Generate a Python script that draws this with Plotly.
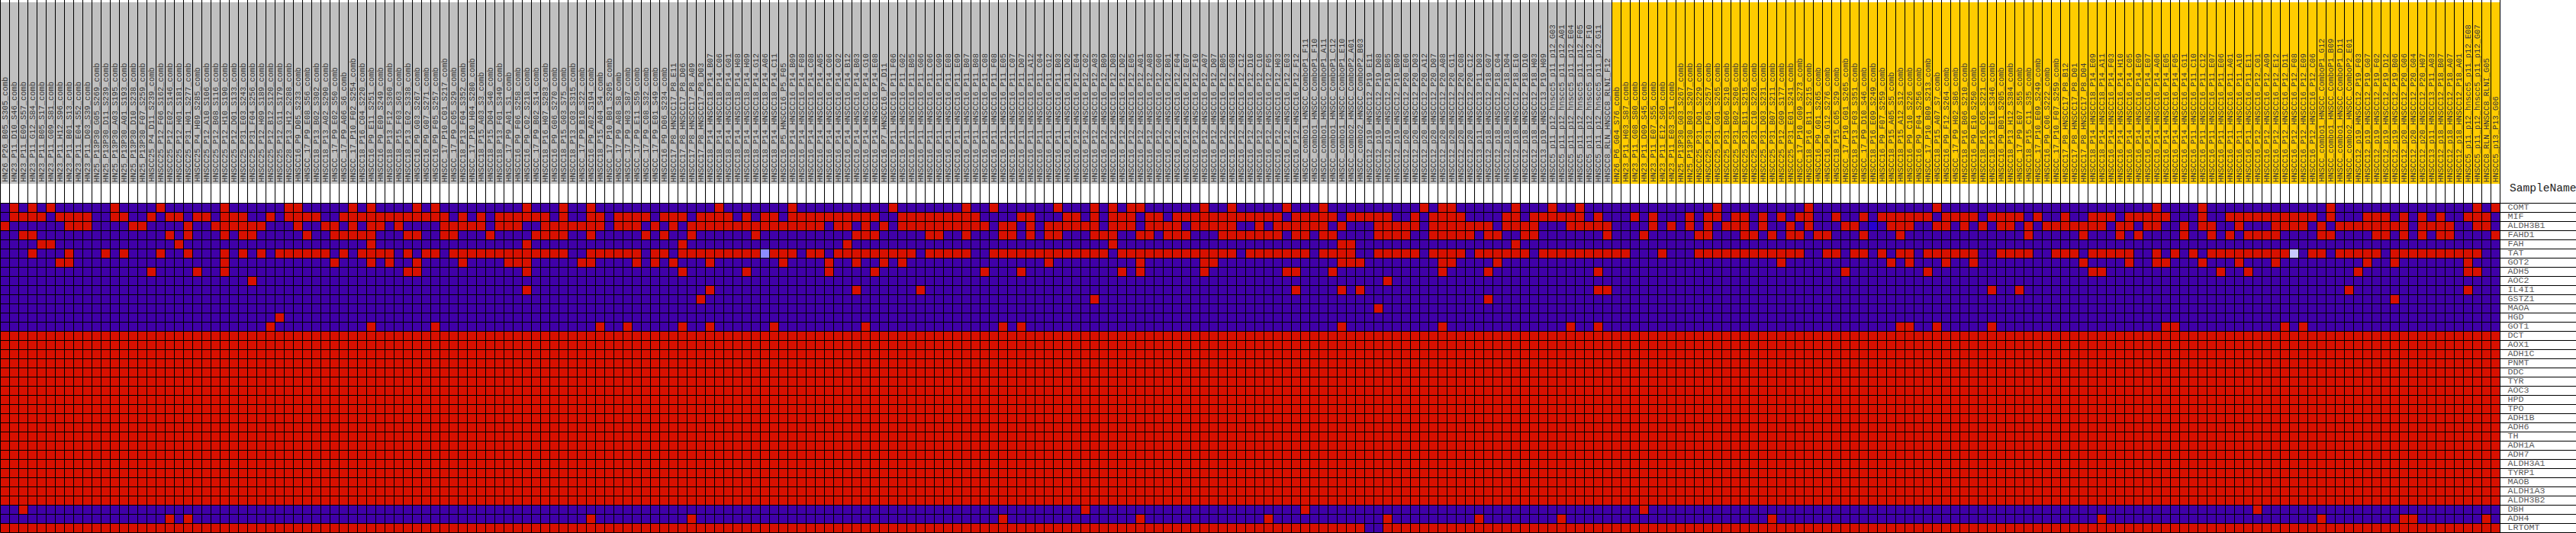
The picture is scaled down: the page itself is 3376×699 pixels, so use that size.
import plotly.graph_objects as go

GENES = ["COMT","MIF","ALDH3B1","FAHD1","FAH","TAT","GOT2","ADH5","AOC2","IL4I1","GSTZ1","MAOA","HGD","GOT1",
         "DCT","AOX1","ADH1C","PNMT","DDC","TYR","AOC3","HPD","TPO","ADH1B","ADH6","TH","ADH1A","ADH7",
         "ALDH3A1","TYRP1","MAOB","ALDH1A3","ALDH3B2","DBH","ADH4","LRTOMT"]

SAMPLES = """HN26_P26_B05_S305_comb HN23_P11_D10_S46_comb HN23_P11_E09_S57_comb HN23_P11_G12_S84_comb HN23_P11_B05_S17_comb
HN23_P11_G09_S81_comb HN23_P11_H12_S96_comb HN23_P11_B01_S13_comb HN23_P11_E04_S52_comb HN23_P11_D03_S39_comb
HN25_P13P30_G05_S269_comb HN25_P13P30_D11_S239_comb HN25_P13P30_A03_S195_comb HN25_P13P30_A01_S193_comb HN25_P13P30_D10_S238_comb
HN25_P13P30_F07_S259_comb HNSCC25_P4_D11_S239_comb HNSCC25_P12_F06_S162_comb HNSCC25_P12_E02_S146_comb HNSCC25_P12_H01_S181_comb
HNSCC25_P31_H01_S277_comb HNSCC25_P4_H09_S285_comb HNSCC25_P12_A10_S106_comb HNSCC25_P12_B08_S116_comb HNSCC25_P12_H10_S190_comb
HNSCC25_P12_D01_S133_comb HNSCC25_P31_E03_S243_comb HNSCC25_P31_F04_S256_comb HNSCC25_P12_H09_S189_comb HNSCC25_P12_B12_S120_comb
HNSCC25_P12_G11_S179_comb HNSCC28_P13_H12_S288_comb HNSCC16_P9_D05_S233_comb HNSCC_17_P9_E08_S56_comb HNSCC18_P13_B02_S302_comb
HNSCC18_P13_A02_S290_comb HNSCC_17_P9_E02_S50_comb HNSCC_17_P9_A06_S6_comb HNSCC_17_P10_F02_S254_comb
HNSCC18_P16_C04_S220_comb HNSCC16_P9_E11_S251_comb HNSCC16_P9_E09_S249_comb HNSCC18_P13_F12_S360_comb HNSCC18_P15_F03_S63_comb
HNSCC18_P13_E02_S338_comb HNSCC16_P9_G03_S267_comb HNSCC16_P9_G07_S271_comb HNSCC16_P9_F05_S257_comb HNSCC_17_P10_C01_S217_comb
HNSCC_17_P9_C05_S29_comb HNSCC18_P13_F04_S352_comb HNSCC_17_P10_H04_S280_comb HNSCC18_P15_A03_S3_comb HNSCC18_P15_D04_S40_comb
HNSCC18_P13_F01_S349_comb HNSCC_17_P9_A01_S1_comb HNSCC16_P9_F06_S258_comb HNSCC16_P9_C02_S218_comb HNSCC_17_P9_B02_S14_comb
HNSCC18_P16_H07_S283_comb HNSCC16_P9_G06_S270_comb HNSCC18_P15_G03_S75_comb HNSCC18_P13_C03_S315_comb HNSCC_17_P9_B10_S22_comb
HNSCC16_P9_A02_S194_comb HNSCC18_P15_A04_S4_comb HNSCC_17_P10_B01_S205_comb HNSCC_17_P9_A08_S8_comb HNSCC_17_P9_H03_S87_comb
HNSCC_17_P9_E11_S59_comb HNSCC_17_P9_C08_S32_comb HNSCC_17_P9_E01_S49_comb HNSCC16_P9_D06_S234_comb HNSCC17_P8_HNSCC17_P8_E11
HNSCC17_P8_HNSCC17_P8_D06 HNSCC17_P8_HNSCC17_P8_A09 HNSCC17_P8_HNSCC17_P8_D03 HNSCC18_P14_HNSCC18_P14_B07
HNSCC18_P14_HNSCC18_P14_C06 HNSCC18_P14_HNSCC18_P14_G01 HNSCC18_P14_HNSCC18_P14_H08 HNSCC18_P14_HNSCC18_P14_H09 HNSCC18_P14_HNSCC18_P14_G12
HNSCC18_P14_HNSCC18_P14_A06 HNSCC18_P14_HNSCC18_P14_C11 HNSCC16_P5_HNSCC16_P5_F05 HNSCC16_P14_HNSCC16_P14_B09 HNSCC16_P14_HNSCC16_P14_F08
HNSCC16_P14_HNSCC16_P14_C08 HNSCC16_P14_HNSCC16_P14_A05 HNSCC16_P14_HNSCC16_P14_C06 HNSCC16_P14_HNSCC16_P14_C02 HNSCC16_P14_HNSCC16_P14_B12
HNSCC16_P14_HNSCC16_P14_B03 HNSCC16_P14_HNSCC16_P14_G10 HNSCC16_P14_HNSCC16_P14_E08 HNSCC16_P7_HNSCC16_P7_D11 HNSCC16_P11_HNSCC16_P11_F06
HNSCC16_P11_HNSCC16_P11_G02 HNSCC16_P11_HNSCC16_P11_B05 HNSCC16_P11_HNSCC16_P11_G06 HNSCC16_P11_HNSCC16_P11_C06 HNSCC16_P11_HNSCC16_P11_G09
HNSCC16_P11_HNSCC16_P11_E08 HNSCC16_P11_HNSCC16_P11_E09 HNSCC16_P11_HNSCC16_P11_B07 HNSCC16_P11_HNSCC16_P11_B08 HNSCC16_P11_HNSCC16_P11_C08
HNSCC16_P11_HNSCC16_P11_F08 HNSCC16_P11_HNSCC16_P11_E05 HNSCC16_P11_HNSCC16_P11_C07 HNSCC16_P11_HNSCC16_P11_D07 HNSCC16_P11_HNSCC16_P11_A12
HNSCC16_P11_HNSCC16_P11_C04 HNSCC16_P11_HNSCC16_P11_G12 HNSCC16_P11_HNSCC16_P11_B03 HNSCC16_P11_HNSCC16_P11_D02
HNSCC16_P12_HNSCC16_P12_E04 HNSCC16_P12_HNSCC16_P12_C02 HNSCC16_P12_HNSCC16_P12_A03 HNSCC16_P12_HNSCC16_P12_B09 HNSCC16_P12_HNSCC16_P12_D08
HNSCC16_P12_HNSCC16_P12_D02 HNSCC16_P12_HNSCC16_P12_E05 HNSCC16_P12_HNSCC16_P12_A01 HNSCC16_P12_HNSCC16_P12_A08 HNSCC16_P12_HNSCC16_P12_G06
HNSCC16_P12_HNSCC16_P12_B01 HNSCC16_P12_HNSCC16_P12_F04 HNSCC16_P12_HNSCC16_P12_E07 HNSCC16_P12_HNSCC16_P12_F10 HNSCC16_P12_HNSCC16_P12_A07
HNSCC16_P12_HNSCC16_P12_D07 HNSCC16_P12_HNSCC16_P12_B05 HNSCC16_P12_HNSCC16_P12_G08 HNSCC16_P12_HNSCC16_P12_C12 HNSCC16_P12_HNSCC16_P12_D10
HNSCC16_P12_HNSCC16_P12_C10 HNSCC16_P12_HNSCC16_P12_F05 HNSCC16_P12_HNSCC16_P12_H03 HNSCC16_P12_HNSCC16_P12_E03 HNSCC16_P12_HNSCC16_P12_F12
HNSCC_combo1_HNSCC_ComboP1_F11 HNSCC_combo1_HNSCC_ComboP1_F10 HNSCC_combo1_HNSCC_ComboP1_A11 HNSCC_combo1_HNSCC_ComboP1_C12 HNSCC_combo1_HNSCC_ComboP1_E10
HNSCC_combo2_HNSCC_ComboP2_A01 HNSCC_combo2_HNSCC_ComboP2_B03 HNSCC12_p19_HNSCC12_P19_E11 HNSCC12_p19_HNSCC12_P19_D08 HNSCC12_p19_HNSCC12_P19_B05
HNSCC12_p19_HNSCC12_P19_B09 HNSCC12_p20_HNSCC12_P20_E06 HNSCC12_p20_HNSCC12_P20_D03 HNSCC12_p20_HNSCC12_P20_A12
HNSCC12_p20_HNSCC12_P20_D07 HNSCC12_p20_HNSCC12_P20_A08 HNSCC12_p20_HNSCC12_P20_G11 HNSCC12_p20_HNSCC12_P20_C08 HNSCC12_p20_HNSCC12_P20_C12
HNSCC13_p11_HNSCC13_P11_D03 HNSCC12_p18_HNSCC12_P18_G07 HNSCC12_p18_HNSCC12_P18_C04 HNSCC12_p18_HNSCC12_P18_D04 HNSCC12_p18_HNSCC12_P18_E10
HNSCC12_p18_HNSCC12_P18_D10 HNSCC12_p18_HNSCC12_P18_H03 HNSCC13_p19_HNSCC13_P19_H09 HNSCC5_p11_p12_hnscc5_p11_p12_G03 HNSCC5_p11_p12_hnscc5_p11_p12_A01
HNSCC5_p11_p12_hnscc5_p11_p12_E04 HNSCC5_p11_p12_hnscc5_p11_p12_F05 HNSCC5_p11_p12_hnscc5_p11_p12_F10 HNSCC5_p11_p12_hnscc5_p11_p12_G11 HNSCC8_RLN_HNSCC8_RLNI_F12
HN26_P6_G04_S76_comb HN23_P11_H03_S87_comb HN23_P11_G08_S80_comb HN23_P11_D09_S45_comb HN23_P11_E07_S55_comb
HN23_P11_E12_S60_comb HN23_P11_E03_S51_comb HN25_P13P30_G03_S267_comb HN25_P13P30_B03_S207_comb HNSCC25_P31_D01_S229_comb
HNSCC25_P31_F05_S257_comb HNSCC25_P31_G01_S265_comb HNSCC25_P31_B06_S210_comb HNSCC25_P31_B02_S206_comb HNSCC25_P31_B11_S215_comb
HNSCC25_P31_C10_S226_comb HNSCC25_P31_D03_S231_comb HNSCC25_P31_B07_S211_comb HNSCC25_P12_G09_S177_comb
HNSCC25_P31_E01_S241_comb HNSCC_17_P10_G09_S273_comb HNSCC18_P16_B11_S215_comb HNSCC16_P9_G01_S265_comb HNSCC16_P9_G12_S276_comb
HNSCC18_P15_C05_S29_comb HNSCC_17_P10_G01_S265_comb HNSCC18_P13_F03_S351_comb HNSCC_17_P9_D10_S46_comb HNSCC18_P16_E09_S249_comb
HNSCC16_P9_F07_S259_comb HNSCC18_P15_A05_S5_comb HNSCC18_P15_A12_S12_comb HNSCC16_P9_C10_S226_comb HNSCC16_P9_F04_S256_comb
HNSCC_17_P10_B09_S213_comb HNSCC18_P15_A07_S7_comb HNSCC16_P9_F12_S264_comb HNSCC_17_P9_H02_S86_comb HNSCC18_P16_B06_S210_comb
HNSCC16_P9_E10_S250_comb HNSCC18_P16_C05_S221_comb HNSCC18_P13_E10_S346_comb HNSCC16_P9_B01_S205_comb HNSCC18_P13_H12_S384_comb
HNSCC_17_P9_E07_S55_comb HNSCC18_P15_C11_S35_comb HNSCC_17_P10_E09_S249_comb HNSCC16_P9_C06_S222_comb HNSCC_17_P10_F07_S259_comb
HNSCC17_P8_HNSCC17_P8_B12 HNSCC17_P8_HNSCC17_P8_D01 HNSCC17_P8_HNSCC17_P8_D04 HNSCC18_P14_HNSCC18_P14_E09 HNSCC18_P14_HNSCC18_P14_A11
HNSCC16_P14_HNSCC16_P14_F03 HNSCC16_P14_HNSCC16_P14_H10 HNSCC16_P14_HNSCC16_P14_C05 HNSCC16_P14_HNSCC16_P14_E09
HNSCC16_P14_HNSCC16_P14_E07 HNSCC16_P14_HNSCC16_P14_A06 HNSCC16_P14_HNSCC16_P14_E05 HNSCC16_P14_HNSCC16_P14_F05 HNSCC16_P14_HNSCC16_P14_G11
HNSCC16_P11_HNSCC16_P11_C10 HNSCC16_P11_HNSCC16_P11_C12 HNSCC16_P11_HNSCC16_P11_E07 HNSCC16_P11_HNSCC16_P11_E06 HNSCC16_P11_HNSCC16_P11_A01
HNSCC16_P11_HNSCC16_P11_A10 HNSCC16_P11_HNSCC16_P11_E11 HNSCC16_P12_HNSCC16_P12_C01 HNSCC16_P12_HNSCC16_P12_A09 HNSCC16_P12_HNSCC16_P12_E12
HNSCC16_P12_HNSCC16_P12_D11 HNSCC16_P12_HNSCC16_P12_F08 HNSCC16_P12_HNSCC16_P12_E09 HNSCC16_P12_HNSCC16_P12_C06 HNSCC_combo1_HNSCC_ComboP1_G12
HNSCC_combo1_HNSCC_ComboP1_B09 HNSCC_combo1_HNSCC_ComboP1_D11 HNSCC_combo2_HNSCC_ComboP2_E01 HNSCC12_p19_HNSCC12_P19_F03 HNSCC12_p19_HNSCC12_P19_G07
HNSCC12_p19_HNSCC12_P19_F02 HNSCC12_p19_HNSCC12_P19_D12 HNSCC12_p19_HNSCC12_P19_B06 HNSCC12_p20_HNSCC12_P20_G06 HNSCC12_p20_HNSCC12_P20_G04
HNSCC12_p20_HNSCC12_P20_H07 HNSCC13_p11_HNSCC13_P11_A03 HNSCC12_p18_HNSCC12_P18_B07 HNSCC12_p18_HNSCC12_P18_A07 HNSCC12_p18_HNSCC12_P18_A01
HNSCC5_p11_p12_hnscc5_p11_p12_E08 HNSCC5_p11_p12_hnscc5_p11_p12_G07 HNSCC8_RLN_HNSCC8_RLNI_G05 HNSCC5_p13_P13_G06""".split()

GREY_COUNT = 176  # first phenotype class; the remainder is the second class

# Each gene lists its "high" (red) samples, block by block (7 blocks of 39 samples).
BLOCK = 39
RED_COMT = [[1,3,5,12,17,24,31,32,38],[1,6,8,18,22,25],[0,8,19,27,30,37],[2,4,6,7,14,17,23,27,38],[1,2,9,13,16,31],[2,16],[1,6,20,36,38]]
RED_MIF = [[1,2,3,4,6,7,8,9,12,13,16,18,19,21,22,24,25,26,29,31,32,33,34,37,38],
           [0,1,2,3,4,5,6,7,8,9,11,13,15,16,17,18,19,20,22,25,26,28,29,30,31,33,34,35,37,38],
           [0,1,3,5,6,8,9,10,11,12,13,14,15,16,17,20,21,22,23,24,25,26,27,28,33,34,38],
           [0,2,4,5,6,8,9,11,12,13,14,15,16,17,18,19,20,21,22,24,25,26,27,28,30,31,32,33,34,37],
           [0,1,2,3,8,9,11,12,13,14,15,16,18,22,24,28,30,31,33,34,36,38],
           [1,2,5,8,10,11,12,13,14,15,17,18,19,20,22,23,24,25,27,30,33,34,35,37,38],
           [0,1,2,6,9,10,11,12,13,14,15,16,17,18,20,24,25,26,28,30,32,35,36,37]]
RED_ALDH3B1 = [[0,7,8,9,14,15,20,23,24,25,26,27,28,32,35,36,38],
               [1,2,4,9,10,11,12,13,15,16,17,20,21,22,23,24,25,26,28,29,30,32,34,36,37,38],
               [0,1,2,3,4,5,6,7,8,9,10,11,13,14,16,18,20,21,22,23,24,25,26,27,28,29,31,32,34,36,37,38],
               [0,1,2,4,5,6,8,9,10,11,13,14,15,16,17,20,22,23,24,25,26,27,29,33,34,35,36,37],
               [0,1,2,3,4,5,6,8,9,10,11,15,16,17,18,19,24,26,28,30,32,33,34,36],
               [0,2,6,7,11,12,13,16,17,19,21,23,24,26,28,29,30,31,32,33,34,36,37],
               [0,1,4,6,7,10,14,15,16,17,19,21,22,23,24,25,26,27,28,30,31,32,33,36,37]]
RED_FAHD1 = [[2,3,18,20,24,26,27,33,36,37,38],[0,1,5,6,9,10,14,19,20,21,22,25,31,33,36],[4,15,16,17,23,24,27,31,32,34,36,37],
             [2,3,4,7,8,10,11,12,16,17,18,19,20,21,22,24,25,27,28,33,34,35,36],[0,1,2,3,4,6,7,10,11,19,23,29,30,34,35,37],
             [0,1,3,4,8,12,26,32,36,38],[4,7,9,11,12,13,14,19,20,25,26,28,30,32,33,38]]
RED_FAH = [[4,5,19],[1,18,35],[14],[4,29,30],[9],[],[]]
RED_TAT = [[3,7,11,13,17,20,24,26,28,30,31,32,33,34,35,37],
           [0,1,2,3,5,7,8,10,11,12,13,14,15,16,17,18,19,20,21,22,25,26,27,28,29,30,32,33,35,36,37,38],
           [0,1,2,3,4,6,7,8,10,11,13,14,15,16,17,18,19,20,21,23,24,25,26,27,30,31,32,33,34,35,36,37,38],
           [0,1,2,3,5,6,7,8,9,10,11,12,13,14,15,16,17,19,20,21,22,23,24,25,27,28,29,30,33,34,35,36,37],
           [0,1,2,3,5,6,7,8,9,10,12,13,14,15,16,17,18,19,20,21,25,29,30,31,32,33,34,35,36,37,38],
           [0,1,4,5,7,8,10,12,13,15,16,17,18,19,20,23,24,25,26,29,30,31,33,34,35,36,37],
           [1,3,5,7,8,9,10,11,12,13,14,15,18,19,21,22,23,24,25,27,28,29,30,31,32,33,34,35,36]]
RED_GOT2 = [[6,7,24,36],[1,3,6,11,16,17,18,24,25,30,32,34,38],[7,12,15,18,20,36],[7,14,15,29,30,31],[1,2,7,38],[11,13,17,20,32,37],[1,2,6,10,14,24,27,35]]
RED_ADH5 = [[16,21,24],[5,6,18,35],[3,12,17,29,33],[5,7,14,23,24,28],[1,6,18],[6,15,33,34],[8,11,23,35,36]]
RED_AOC2 = [[27],[],[],[34],[],[],[]]
RED_IL4I1 = [[],[18,38],[15,22],[24,29,31],[18,19],[22,25],[22,35]]
RED_GSTZ1 = [[],[37],[],[2],[6],[],[27]]
RED_MAOA = [[],[],[],[33],[],[],[]]
RED_HGD = [[30],[],[],[],[],[],[]]
RED_GOT1 = [[29],[1,8,26,29,35,38],[6,16,31,33],[29],[1,15,18],[12,13,16,22],[2,3,15,17]]
RED_DBH = [[2],[],[],[1,25],[23],[],[12]]
RED_ADH4 = [[18,20],[25,36],[31],[7,21,34],[5,14,37],[34],[19,28,29,37]]
BLUE_LRTOMT = [149, 150]

# The few cells with an intermediate value: (gene, sample index, level)
INTERMEDIATE = [("TAT", 83, 3), ("ALDH3B1", 204, 2), ("TAT", 250, 4)]

LEVEL_COLORS = ["#4000a8", "#d81000", "#2600d0", "#8c8cff", "#c8c8ff"]

LINE_COLOR = "#000000"
CLASS_COLORS = ["#c0c0c0", "#ffcc00"]

n_col, n_row = len(SAMPLES), len(GENES)
rows_red = {"COMT": RED_COMT, "MIF": RED_MIF, "ALDH3B1": RED_ALDH3B1, "FAHD1": RED_FAHD1, "FAH": RED_FAH, "TAT": RED_TAT,
            "GOT2": RED_GOT2, "ADH5": RED_ADH5, "AOC2": RED_AOC2, "IL4I1": RED_IL4I1, "GSTZ1": RED_GSTZ1, "MAOA": RED_MAOA,
            "HGD": RED_HGD, "GOT1": RED_GOT1, "DBH": RED_DBH, "ADH4": RED_ADH4}
z = []
for g in GENES:
    if g in rows_red:
        row = [0] * n_col
        for b, idx in enumerate(rows_red[g]):
            for i in idx:
                row[b * BLOCK + i] = 1
    else:
        row = [1] * n_col
    if g == "LRTOMT":
        for i in BLUE_LRTOMT:
            row[i] = 0
    z.append(row)
for g, c, lv in INTERMEDIATE:
    z[GENES.index(g)][c] = lv

# pixel layout: one data unit is one 12 px cell
W, H, CELL, GRID_TOP = 3376, 699, 12, 266
def py(px):  # y data value of a pixel row
    return (px - GRID_TOP - 0.5) / CELL
def px_x(px):
    return (px - 0.5) / CELL

x_edges = list(range(n_col + 1))
y_edges = list(range(n_row + 1))
n_lv = len(LEVEL_COLORS)
cs = []
for i, col in enumerate(LEVEL_COLORS):
    cs += [[i / n_lv, col], [(i + 1) / n_lv, col]]

fig = go.Figure()
# sample-class colour strip
fig.add_trace(go.Heatmap(z=[[0 if i < GREY_COUNT else 1 for i in range(n_col)]], x=x_edges, y=[py(3), py(241)],
                         colorscale=[[0, CLASS_COLORS[0]], [1, CLASS_COLORS[1]]], zmin=0, zmax=1,
                         showscale=False, hoverinfo="skip"))
# expression matrix (levels are centred in their colour band)
fig.add_trace(go.Heatmap(z=[[v + 0.5 for v in r] for r in z], x=x_edges, y=y_edges, colorscale=cs, zmin=0, zmax=n_lv,
                         showscale=False))
# cell borders
vx, vy = [], []
for e in x_edges:
    vx += [e, e, None]
    vy += [py(0), n_row, None]
for e in y_edges:
    vx += [0, px_x(W), None]
    vy += [e, e, None]
fig.add_trace(go.Scatter(x=vx, y=vy, mode="lines", line=dict(color=LINE_COLOR, width=1), hoverinfo="skip", showlegend=False))
# gene names
fig.add_trace(go.Scatter(x=[n_col + 10 / CELL] * n_row, y=[i + 0.5 for i in range(n_row)], text=GENES, mode="text",
                         textposition="middle right", hoverinfo="skip", showlegend=False,
                         textfont=dict(family="Liberation Mono", size=11.7, color="#5c5c5c")))

ann = [dict(x=i + 0.5, y=py(240), text=s, textangle=-90, showarrow=False, xanchor="center", yanchor="bottom",
            borderpad=0, font=dict(family="Liberation Mono", size=10.45, color="#383838"))
       for i, s in enumerate(SAMPLES)]
ann.append(dict(x=n_col + 11 / CELL, y=py(247), text="SampleName", showarrow=False, xanchor="left", yanchor="middle",
                borderpad=0, font=dict(family="Liberation Mono", size=14.6, color="#222222")))

fig.update_layout(width=W, height=H, margin=dict(l=0, r=0, t=0, b=0), autosize=False,
                  paper_bgcolor="white", plot_bgcolor="white", showlegend=False, annotations=ann,
                  xaxis=dict(range=[px_x(0), px_x(W)], visible=False, fixedrange=True),
                  yaxis=dict(range=[py(H), py(0)], visible=False, fixedrange=True))

fig.write_html("out.html", config=dict(displayModeBar=False),
               post_script="document.body.style.margin='0';document.documentElement.style.overflow='hidden';")
